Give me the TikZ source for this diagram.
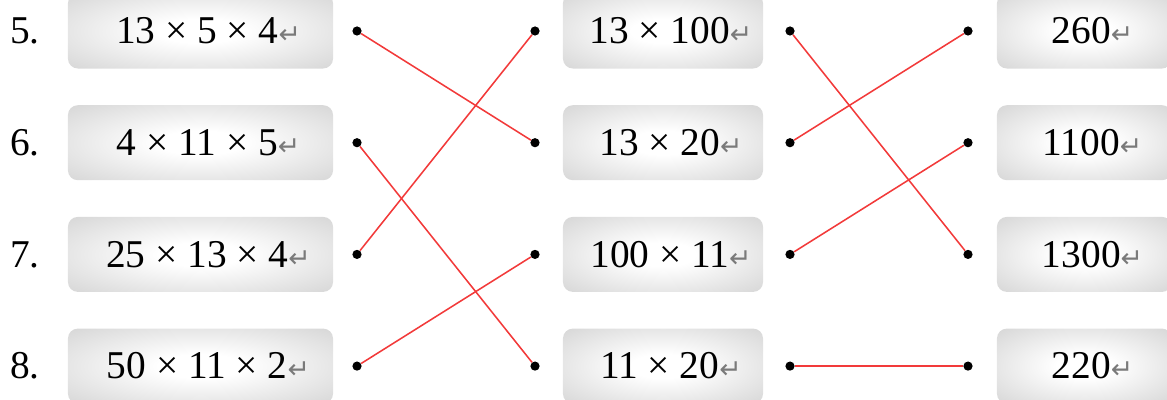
\documentclass[tikz,border=0pt]{standalone}
\usepackage{fontspec}
\setmainfont{Liberation Serif}
\newfontfamily\symfont{DejaVu Sans}
\usepackage{xcolor}
\usepackage{tikz}
\usetikzlibrary{positioning}
\definecolor{mred}{HTML}{F23A3A}
\definecolor{medge}{HTML}{D6D6D6}
\definecolor{mret}{HTML}{7A7A7A}
\pgfdeclareradialshading{mglow}{\pgfpoint{0bp}{0bp}}{%
  color(0bp)=(white); color(8bp)=(white); color(36bp)=(medge); color(50bp)=(medge)}
\newcommand{\ret}{{\symfont\color{mret}\fontsize{19}{19}\selectfont ↵}}
\tikzset{
  mbox/.style={rounded corners=7pt, shading=mglow, draw=none, inner sep=0pt,
               minimum height=1.875cm, font=\fontsize{28}{30}\selectfont,
               execute at begin node=\hspace{0.4cm}},
  mnum/.style={font=\fontsize{28}{30}\selectfont, inner sep=0pt},
  mdot/.style={circle, fill=black, minimum size=0.23cm, inner sep=0pt},
  mlink/.style={mred, line width=1.1pt},
}

\begin{document}
\begin{tikzpicture}[x=0.025cm,y=-0.025cm]
  \useasboundingbox (0,0) rectangle (1167,400);

  % left column: products to compute
  \foreach \n/\t [count=\i] in {5/{13 × 5 × 4},6/{4 × 11 × 5},
                                 7/{25 × 13 × 4},8/{50 × 11 × 2}}{
    \node[mnum] (num\i) at (25,{31+111.7*(\i-1)}) {\n.};
    \node[mbox, minimum width=6.625cm] (lb\i) at (200.5,{31+111.7*(\i-1)}) {\t\ret};
    \node[mdot] (ld\i) at (357,{31+111.7*(\i-1)}) {};
  }

  % middle column: simplified forms
  \foreach \t [count=\i] in {{13 × 100},{13 × 20},{100 × 11},{11 × 20}}{
    \node[mdot] (mla\i) at (535,{31+111.7*(\i-1)}) {};
    \node[mbox, minimum width=5cm] (mb\i) at (663,{31+111.7*(\i-1)}) {\t\ret};
    \node[mdot] (mra\i) at (790,{31+111.7*(\i-1)}) {};
  }

  % right column: results
  \foreach \t [count=\i] in {260,1100,1300,220}{
    \node[mdot] (rd\i) at (968,{31+111.7*(\i-1)}) {};
    \node[mbox, minimum width=4.375cm] (rb\i) at (1084.5,{31+111.7*(\i-1)}) {\t\ret};
  }

  % matching lines
  \draw[mlink] (ld1) -- (mla2);
  \draw[mlink] (ld2) -- (mla4);
  \draw[mlink] (ld3) -- (mla1);
  \draw[mlink] (ld4) -- (mla3);
  \draw[mlink] (mra1) -- (rd3);
  \draw[mlink] (mra2) -- (rd1);
  \draw[mlink] (mra3) -- (rd2);
  \draw[mlink] (mra4) -- (rd4);

\end{tikzpicture}
\end{document}
